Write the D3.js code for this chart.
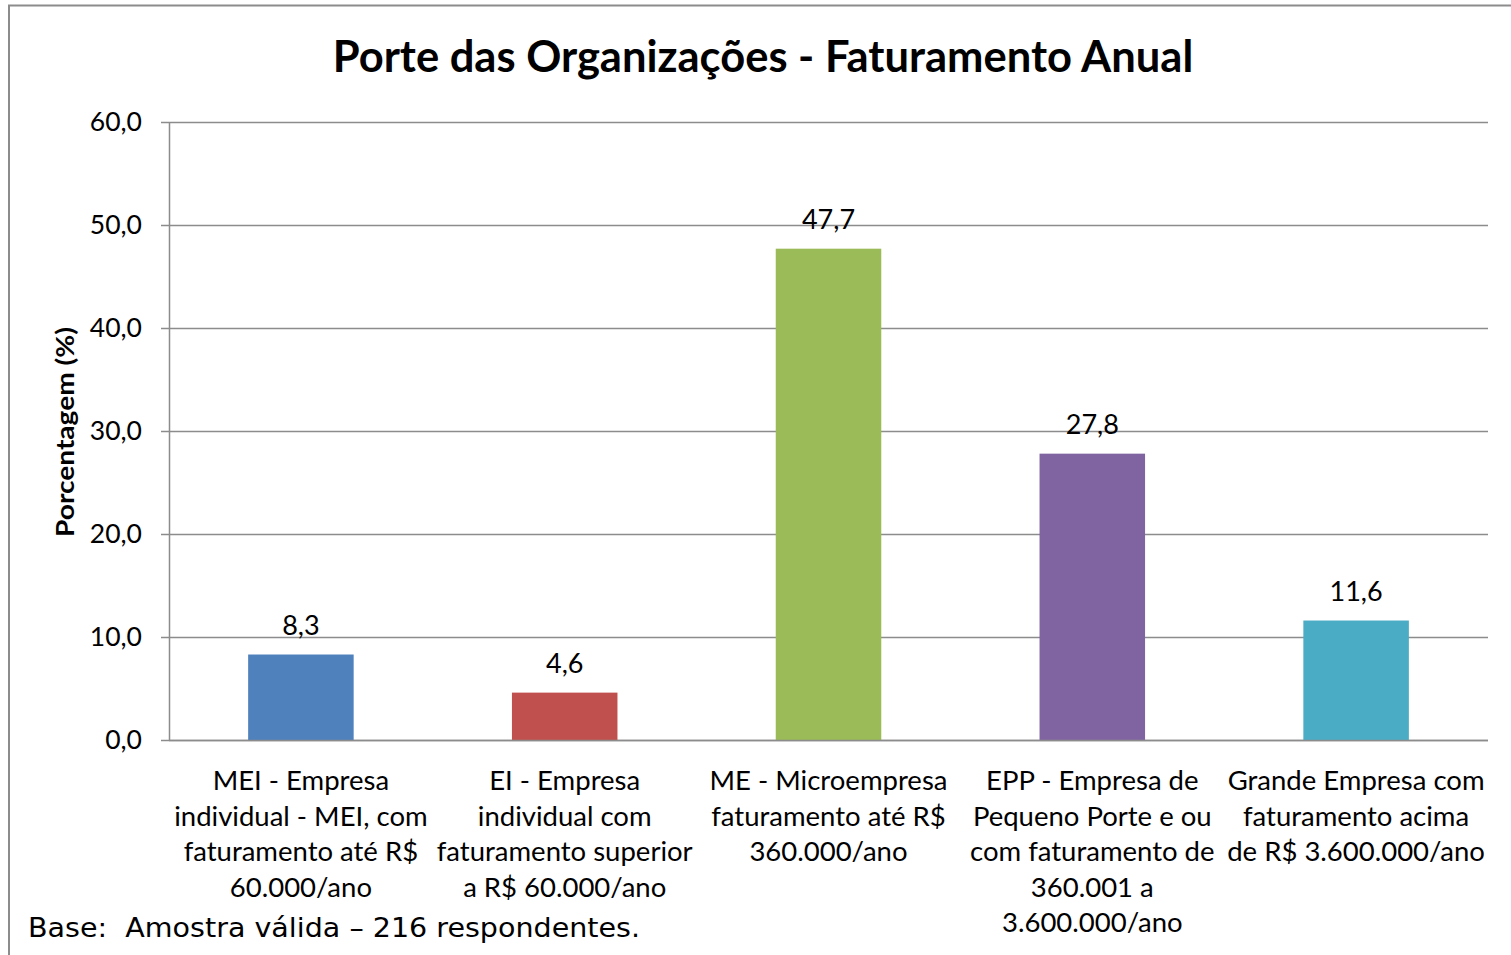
<!DOCTYPE html>
<html><head><meta charset="utf-8">
<script src="https://cdn.jsdelivr.net/npm/d3@7"></script>
<style>body{margin:0;background:#fff;}svg{display:block;}</style>
</head><body>
<script>
const categories = [
  ["MEI - Empresa","individual - MEI, com","faturamento até R$","60.000/ano"],
  ["EI - Empresa","individual com","faturamento superior","a R$ 60.000/ano"],
  ["ME - Microempresa","faturamento até R$","360.000/ano"],
  ["EPP - Empresa de","Pequeno Porte e ou","com faturamento de","360.001 a","3.600.000/ano"],
  ["Grande Empresa com","faturamento acima","de R$ 3.600.000/ano"]
];
const values = [8.3, 4.6, 47.7, 27.8, 11.6];
const colors = ["#4F81BD","#C0504D","#9BBB59","#8064A2","#4BACC6"];
const yTicks = [0,10,20,30,40,50,60];
const title = "Porte das Organizações - Faturamento Anual";
const yTitle = "Porcentagem (%)";
const note = "Base:  Amostra válida – 216 respondentes.";

const W=1511,H=955;
const font="Lato, 'Open Sans', sans-serif";
const svg=d3.select("body").append("svg").attr("width",W).attr("height",H);
svg.append("rect").attr("x",0).attr("y",0).attr("width",W).attr("height",H).attr("fill","#fff");
svg.append("path").attr("d",`M9,${H+5} V5.5 H${W+5}`).attr("fill","none").attr("stroke","#8c8c8c").attr("stroke-width",2);

const pL=169,pR=1488,pT=122,pB=740;
const x=d3.scaleBand().domain(d3.range(values.length)).range([pL,pR]).paddingInner(0.6).paddingOuter(0.3);
const y=d3.scaleLinear().domain([0,60]).range([pB,pT]);

svg.append("g").selectAll("line").data(yTicks).join("line")
  .attr("x1",pL-8).attr("x2",pR).attr("y1",d=>y(d)+0.5).attr("y2",d=>y(d)+0.5)
  .attr("stroke","#8c8c8c").attr("stroke-width",1.5);
const yAxis=d3.axisLeft(y).tickValues(yTicks).tickSize(0).tickPadding(27)
  .tickFormat(d=>d3.format(".1f")(d).replace(".",","));
const gy=svg.append("g").attr("transform",`translate(${pL},0)`).call(yAxis);
gy.select(".domain").attr("stroke","#8c8c8c").attr("stroke-width",1.5);
gy.selectAll("text").attr("font-family",font).attr("font-size",26.5).attr("fill","#000");

svg.append("g").selectAll("rect").data(values).join("rect")
  .attr("x",(d,i)=>x(i)).attr("width",x.bandwidth())
  .attr("y",d=>y(d)).attr("height",d=>y(0)-y(d)).attr("fill",(d,i)=>colors[i]);
svg.append("line").attr("x1",pL).attr("x2",pR).attr("y1",y(0)+0.5).attr("y2",y(0)+0.5).attr("stroke","#8c8c8c").attr("stroke-width",1.5);

svg.append("g").selectAll("text").data(values).join("text")
  .attr("x",(d,i)=>x(i)+x.bandwidth()/2).attr("y",d=>y(d)-20)
  .attr("text-anchor","middle").attr("font-family",font).attr("font-size",27)
  .text(d=>d3.format(".1f")(d).replace(".",","));

const cg=svg.append("g");
categories.forEach((lines,i)=>{
  const t=cg.append("text").attr("text-anchor","middle").attr("font-family",font).attr("font-size",27.5)
    .attr("x",x(i)+x.bandwidth()/2);
  lines.forEach((l,j)=>t.append("tspan").attr("x",x(i)+x.bandwidth()/2).attr("y",790+j*35.5).text(l));
});

svg.append("text").attr("x",763).attr("y",72).attr("text-anchor","middle")
  .attr("font-family",font).attr("font-weight","bold").attr("font-size",43.5).text(title);
svg.append("text").attr("transform","translate(74,432) rotate(-90)").attr("text-anchor","middle")
  .attr("font-family",font).attr("font-weight","bold").attr("font-size",25)
  .attr("textLength",210).attr("lengthAdjust","spacingAndGlyphs").text(yTitle);
svg.append("text").attr("x",28).attr("y",937).attr("font-family","'DejaVu Sans', Verdana, sans-serif")
  .attr("font-size",26).style("white-space","pre")
  .attr("textLength",612).attr("lengthAdjust","spacingAndGlyphs").text(note);
</script>
</body></html>
